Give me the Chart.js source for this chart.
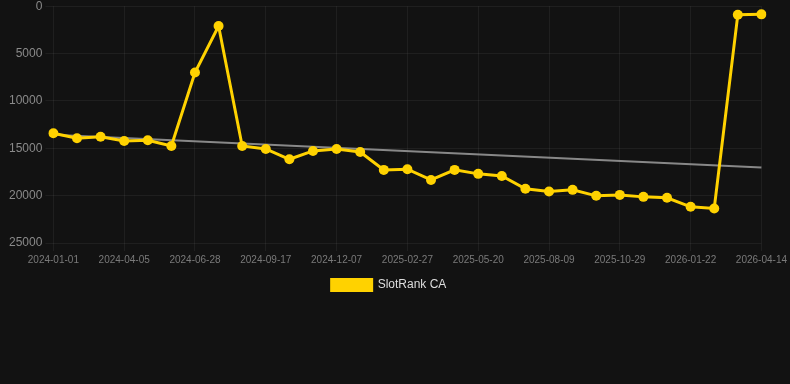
<!DOCTYPE html>
<html>
<head>
<meta charset="utf-8">
<script src="https://cdn.jsdelivr.net/npm/chart.js@4/dist/chart.umd.min.js"></script>
<style>
  html, body { margin: 0; padding: 0; background: #121212; overflow: hidden; }
  #wrap { width: 790px; height: 305px; position: relative; margin-top: -4px; }
</style>
</head>
<body>
<div id="wrap"><canvas id="rankChart"></canvas></div>
<script>
const dates = [
  "2024-01-01", "2024-02-01", "2024-03-04", "2024-04-05", "2024-05-03", "2024-05-31",
  "2024-06-28", "2024-07-25", "2024-08-21", "2024-09-17", "2024-10-14", "2024-11-10",
  "2024-12-07", "2025-01-03", "2025-01-31", "2025-02-27", "2025-03-26", "2025-04-23",
  "2025-05-20", "2025-06-16", "2025-07-13", "2025-08-09", "2025-09-05", "2025-10-02",
  "2025-10-29", "2025-11-26", "2025-12-24", "2026-01-22", "2026-02-18", "2026-03-17",
  "2026-04-14"
];
const rankValues = [
  13420, 13950, 13780, 14230, 14160, 14760, 7000, 2090, 14760, 15070,
  16160, 15280, 15070, 15390, 17280, 17210, 18340, 17280, 17700, 17920,
  19280, 19560, 19390, 20020, 19920, 20130, 20230, 21180, 21360, 895,
  860
];
// trend line end points
const trendStart = 13560;
const trendEnd = 17040;
const yTicks = [0, 5000, 10000, 15000, 20000, 25000];

const trendValues = dates.map((d, i) => i === 0 ? trendStart : (i === dates.length - 1 ? trendEnd : null));
const chartRank = document.getElementById("rankChart");
const gridColour = "rgba(255,255,255,0.055)";

// nudge the legend a bit to the left, like the original
const legendShift = {
  id: 'legendShift',
  afterLayout(chart) {
    if (chart.legend) {
      chart.legend.left -= 9;
      chart.legend.right -= 9;
    }
  }
};

new Chart(chartRank, {
  type: 'line',
  data: {
    labels: dates,
    datasets: [{
      label: 'SlotRank CA',
      data: rankValues,
      borderColor: '#FFD200',
      backgroundColor: '#FFD200',
      borderWidth: 3,
      pointRadius: 5,
      pointBackgroundColor: '#FFD200',
      pointBorderWidth: 0,
      tension: 0,
      order: 1
    }, {
      label: 'trend',
      data: trendValues,
      borderColor: 'rgba(150,150,150,0.9)',
      borderWidth: 2,
      pointRadius: 0,
      spanGaps: true,
      order: 2
    }]
  },
  options: {
    responsive: true,
    maintainAspectRatio: false,
    animation: false,
    layout: { padding: { left: 6, right: 0, top: 0, bottom: 0 } },
    plugins: {
      legend: {
        position: 'bottom',
        labels: {
          color: '#dddddd',
          boxWidth: 40,
          boxHeight: 11,
          font: { family: 'Arial, "Liberation Sans"', size: 12 },
          filter: item => item.text !== 'trend'
        }
      },
      tooltip: { enabled: false }
    },
    scales: {
      x: {
        ticks: {
          autoSkip: false,
          maxRotation: 0,
          color: '#7a7a7a',
          font: { family: 'Arial, "Liberation Sans"', size: 10 },
          callback: function (value, index) {
            return index % 3 === 0 ? dates[index] : '';
          }
        },
        grid: {
          color: ctx => (ctx.index % 3 === 0 ? gridColour : 'rgba(0,0,0,0)')
        },
        border: { display: false }
      },
      y: {
        reverse: true,
        min: yTicks[0],
        max: yTicks[yTicks.length - 1],
        ticks: {
          stepSize: 5000,
          color: '#8a8a8a',
          font: { family: 'Arial, "Liberation Sans"', size: 12 },
          callback: value => String(value)
        },
        grid: { color: gridColour },
        border: { display: false }
      }
    }
  },
  plugins: [legendShift]
});
</script>
</body>
</html>
